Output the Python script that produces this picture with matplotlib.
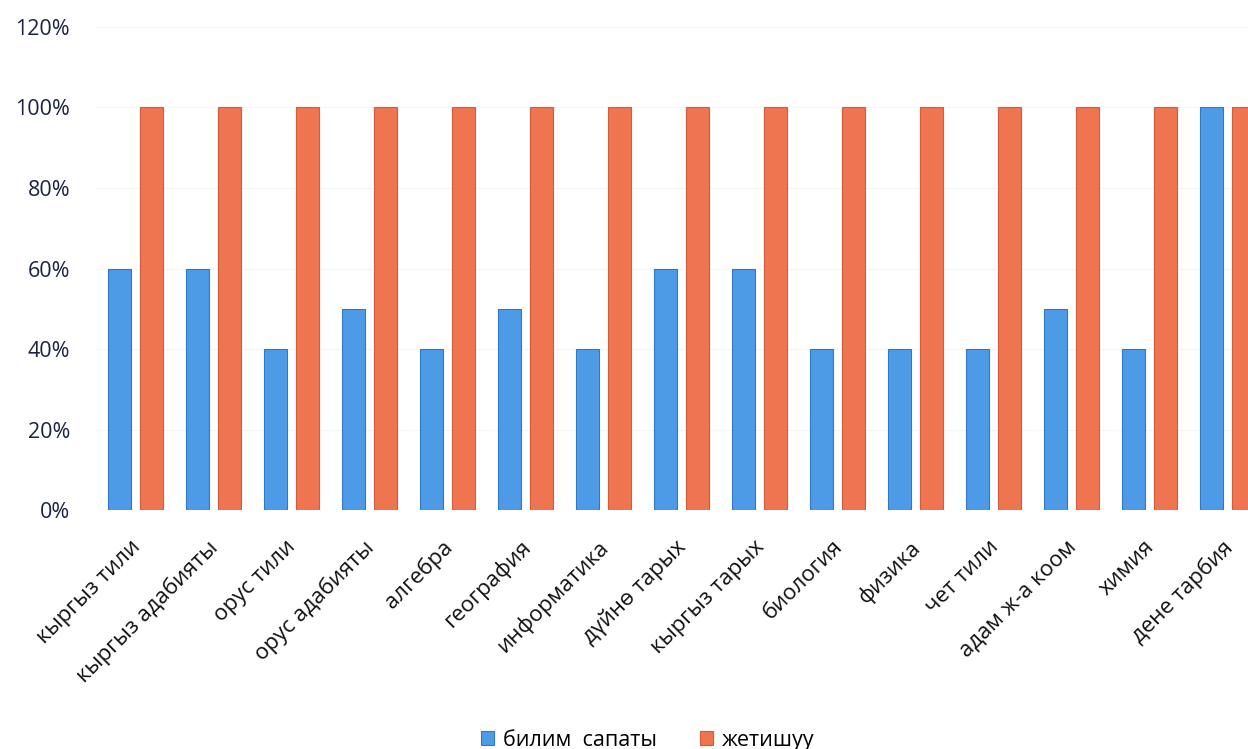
import numpy as np
import matplotlib.pyplot as plt
import matplotlib.transforms as mtransforms
from matplotlib.ticker import PercentFormatter

plt.rcParams['font.family'] = ['Open Sans', 'DejaVu Sans']

subjects = ['кыргыз тили', 'кыргыз адабияты', 'орус тили', 'орус адабияты', 'алгебра',
            'география', 'информатика', 'дүйнө тарых', 'кыргыз тарых', 'биология',
            'физика', 'чет тили', 'адам ж-а коом', 'химия', 'дене тарбия']
bilim = [0.60, 0.60, 0.40, 0.50, 0.40, 0.50, 0.40, 0.60, 0.60, 0.40, 0.40, 0.40, 0.50, 0.40, 1.00]
jetishuu = [1.00] * 15

blue = '#4d9ae6'
red = '#ef7550'

fig = plt.figure(figsize=(12.48, 7.49), dpi=100)
ax = fig.add_axes([0.0773, 0.319, 0.9227, 0.645])

x = np.arange(len(subjects))
w = 0.295
ax.bar(x - 0.205, bilim, w, color=blue, edgecolor='#2f78c8', linewidth=0.8, label='билим  сапаты')
ax.bar(x + 0.205, jetishuu, w, color=red, edgecolor='#d85a38', linewidth=0.8, label='жетишуу')

ax.set_xlim(-0.5, 14.26)
ax.set_ylim(0, 1.2)
ax.set_yticks(np.arange(0, 1.21, 0.2))
ax.yaxis.set_major_formatter(PercentFormatter(1.0, decimals=0))
ax.grid(axis='y', color='#f5f5f5', linewidth=0.8)
ax.set_axisbelow(True)
for s in ax.spines.values():
    s.set_visible(False)
ax.tick_params(length=0)
ax.tick_params(axis='y', labelsize=15.5, labelcolor='#1a2340', pad=19)

ax.set_xticks(x)
ax.set_xticklabels(subjects, rotation=45, ha='right', rotation_mode='anchor',
                   fontsize=16, color='#111111')
ax.tick_params(axis='x', pad=19)
shift = mtransforms.ScaledTranslation(-6 / 100, 0, fig.dpi_scale_trans)
for lab in ax.get_xticklabels():
    lab.set_transform(lab.get_transform() + shift)

fig.legend(loc='lower center', bbox_to_anchor=(0.519, -0.028), ncol=2, frameon=False,
           fontsize=15.5, handlelength=0.6, handleheight=0.6, columnspacing=2.0,
           handletextpad=0.4)

fig.savefig('out.png', dpi=100)
